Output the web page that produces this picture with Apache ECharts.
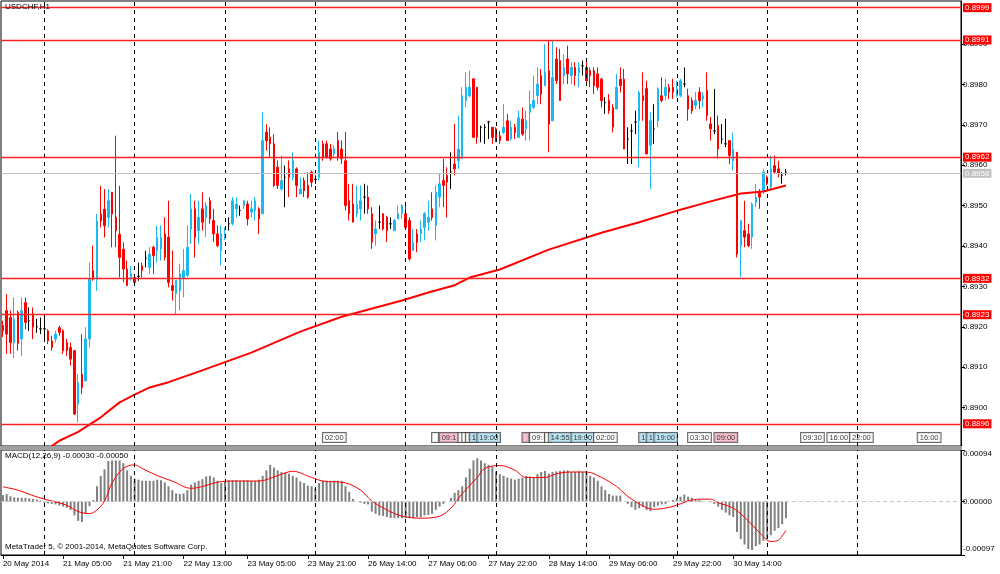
<!DOCTYPE html>
<html><head><meta charset="utf-8">
<script src="https://cdn.jsdelivr.net/npm/echarts@6/dist/echarts.min.js"></script>
<style>html,body{margin:0;padding:0;background:#fff}#c{width:1000px;height:574px}</style>
</head><body><div id="c"></div>
<script>
// ---------- DATA ----------
const chartTitle = 'USDCHF,H1';
const macdTitle = 'MACD(12,26,9) -0.00030 -0.00050';
const copyright = 'MetaTrader 5, \u00a9 2001-2014, MetaQuotes Software Corp.';

// hourly candles [open, close, low, high]
const candles = [
[0.89203,0.89190,0.89175,0.89215],[0.89240,0.89182,0.89133,0.89281],[0.89223,0.89161,0.89133,0.89240],[0.89161,0.89219,0.89123,0.89273],
[0.89236,0.89159,0.89141,0.89240],[0.89170,0.89240,0.89128,0.89273],[0.89260,0.89211,0.89194,0.89273],[0.89215,0.89215,0.89190,0.89248],
[0.89232,0.89199,0.89170,0.89248],[0.89200,0.89200,0.89185,0.89220],[0.89195,0.89195,0.89182,0.89223],[0.89195,0.89195,0.89165,0.89227],
[0.89190,0.89165,0.89157,0.89194],[0.89165,0.89149,0.89141,0.89178],[0.89170,0.89182,0.89161,0.89190],[0.89198,0.89186,0.89178,0.89203],
[0.89190,0.89141,0.89133,0.89194],[0.89161,0.89141,0.89128,0.89170],[0.89149,0.89120,0.89104,0.89161],[0.89141,0.88984,0.88982,0.89143],
[0.89009,0.89062,0.88963,0.89083],[0.89083,0.89050,0.89033,0.89182],[0.89066,0.89170,0.89066,0.89199],[0.89170,0.89318,0.89149,0.89359],
[0.89339,0.89318,0.89314,0.89401],[0.89318,0.89462,0.89289,0.89479],[0.89479,0.89462,0.89446,0.89549],[0.89491,0.89450,0.89421,0.89541],
[0.89471,0.89512,0.89446,0.89541],[0.89533,0.89479,0.89397,0.89533],[0.89471,0.89438,0.89397,0.89673],[0.89429,0.89372,0.89322,0.89549],
[0.89392,0.89343,0.89310,0.89409],[0.89343,0.89302,0.89302,0.89364],[0.89322,0.89331,0.89314,0.89351],[0.89322,0.89310,0.89305,0.89326],
[0.89325,0.89325,0.89314,0.89359],[0.89351,0.89339,0.89322,0.89359],[0.89370,0.89370,0.89347,0.89388],[0.89347,0.89380,0.89331,0.89397],
[0.89397,0.89376,0.89331,0.89401],[0.89388,0.89421,0.89359,0.89450],[0.89393,0.89422,0.89364,0.89451],[0.89430,0.89372,0.89364,0.89471],
[0.89422,0.89310,0.89298,0.89512],[0.89302,0.89290,0.89265,0.89389],[0.89282,0.89315,0.89232,0.89315],[0.89290,0.89331,0.89240,0.89356],
[0.89319,0.89339,0.89273,0.89393],[0.89327,0.89397,0.89323,0.89451],[0.89442,0.89492,0.89405,0.89529],[0.89492,0.89422,0.89372,0.89512],
[0.89438,0.89471,0.89405,0.89512],[0.89492,0.89459,0.89438,0.89533],[0.89471,0.89500,0.89422,0.89508],[0.89512,0.89467,0.89455,0.89521],
[0.89463,0.89430,0.89410,0.89492],[0.89430,0.89401,0.89397,0.89451],[0.89389,0.89430,0.89352,0.89451],[0.89418,0.89430,0.89414,0.89446],
[0.89455,0.89455,0.89438,0.89471],[0.89455,0.89512,0.89451,0.89521],[0.89492,0.89504,0.89471,0.89521],[0.89488,0.89488,0.89475,0.89500],
[0.89500,0.89512,0.89492,0.89512],[0.89504,0.89467,0.89451,0.89512],[0.89484,0.89492,0.89471,0.89512],[0.89488,0.89512,0.89463,0.89521],
[0.89492,0.89467,0.89430,0.89496],[0.89480,0.89661,0.89480,0.89731],[0.89682,0.89661,0.89636,0.89702],[0.89669,0.89653,0.89620,0.89694],
[0.89653,0.89550,0.89546,0.89677],[0.89595,0.89550,0.89541,0.89612],[0.89541,0.89562,0.89537,0.89624],[0.89570,0.89570,0.89496,0.89599],
[0.89591,0.89570,0.89521,0.89612],[0.89570,0.89612,0.89562,0.89632],[0.89591,0.89550,0.89521,0.89595],[0.89529,0.89541,0.89529,0.89570],
[0.89562,0.89537,0.89521,0.89570],[0.89550,0.89521,0.89517,0.89583],[0.89583,0.89558,0.89546,0.89587],[0.89565,0.89565,0.89554,0.89575],
[0.89570,0.89632,0.89562,0.89661],[0.89653,0.89620,0.89611,0.89661],[0.89653,0.89620,0.89616,0.89661],[0.89640,0.89616,0.89611,0.89653],
[0.89628,0.89640,0.89620,0.89649],[0.89661,0.89620,0.89611,0.89682],[0.89640,0.89616,0.89603,0.89661],[0.89611,0.89500,0.89488,0.89682],
[0.89512,0.89480,0.89463,0.89554],[0.89504,0.89459,0.89459,0.89554],[0.89480,0.89504,0.89471,0.89550],[0.89492,0.89512,0.89463,0.89550],
[0.89521,0.89521,0.89480,0.89554],[0.89521,0.89492,0.89480,0.89550],[0.89480,0.89410,0.89393,0.89496],[0.89430,0.89442,0.89401,0.89463],
[0.89459,0.89459,0.89442,0.89500],[0.89480,0.89442,0.89438,0.89480],[0.89471,0.89438,0.89410,0.89475],[0.89455,0.89455,0.89442,0.89471],
[0.89438,0.89463,0.89438,0.89467],[0.89467,0.89480,0.89467,0.89500],[0.89480,0.89500,0.89467,0.89504],[0.89480,0.89446,0.89442,0.89500],
[0.89463,0.89368,0.89364,0.89471],[0.89389,0.89409,0.89389,0.89442],[0.89430,0.89409,0.89385,0.89442],[0.89430,0.89442,0.89410,0.89463],
[0.89446,0.89480,0.89414,0.89484],[0.89459,0.89471,0.89438,0.89512],[0.89492,0.89471,0.89463,0.89533],[0.89451,0.89533,0.89414,0.89550],
[0.89521,0.89554,0.89496,0.89579],[0.89562,0.89550,0.89496,0.89616],[0.89575,0.89558,0.89471,0.89595],[0.89583,0.89583,0.89541,0.89632],
[0.89603,0.89591,0.89575,0.89702],[0.89611,0.89640,0.89591,0.89723],[0.89616,0.89772,0.89616,0.89793],[0.89760,0.89793,0.89744,0.89830],
[0.89772,0.89793,0.89768,0.89834],[0.89814,0.89669,0.89669,0.89814],[0.89793,0.89669,0.89653,0.89793],[0.89694,0.89694,0.89657,0.89698],
[0.89694,0.89694,0.89653,0.89702],[0.89707,0.89707,0.89665,0.89710],[0.89694,0.89669,0.89653,0.89694],[0.89690,0.89665,0.89657,0.89694],
[0.89673,0.89661,0.89653,0.89685],[0.89681,0.89694,0.89677,0.89751],[0.89710,0.89661,0.89661,0.89727],[0.89665,0.89694,0.89661,0.89710],
[0.89694,0.89681,0.89665,0.89702],[0.89669,0.89718,0.89669,0.89735],[0.89714,0.89677,0.89673,0.89743],[0.89690,0.89710,0.89661,0.89735],
[0.89731,0.89751,0.89661,0.89785],[0.89743,0.89760,0.89739,0.89822],[0.89772,0.89801,0.89751,0.89842],[0.89822,0.89776,0.89751,0.89838],
[0.89797,0.89830,0.89797,0.89900],[0.89834,0.89702,0.89632,0.89908],[0.89710,0.89817,0.89710,0.89908],[0.89863,0.89809,0.89801,0.89892],
[0.89859,0.89760,0.89760,0.89888],[0.89822,0.89842,0.89801,0.89875],[0.89863,0.89826,0.89801,0.89896],[0.89822,0.89842,0.89801,0.89855],
[0.89842,0.89822,0.89797,0.89855],[0.89830,0.89842,0.89793,0.89855],[0.89846,0.89846,0.89822,0.89859],[0.89842,0.89809,0.89801,0.89855],
[0.89834,0.89822,0.89793,0.89842],[0.89834,0.89797,0.89776,0.89842],[0.89826,0.89793,0.89785,0.89842],[0.89813,0.89760,0.89743,0.89817],
[0.89755,0.89755,0.89727,0.89768],[0.89760,0.89735,0.89727,0.89776],[0.89743,0.89694,0.89681,0.89751],[0.89739,0.89793,0.89739,0.89826],
[0.89813,0.89797,0.89780,0.89842],[0.89813,0.89640,0.89640,0.89838],[0.89665,0.89665,0.89603,0.89694],[0.89685,0.89685,0.89603,0.89702],
[0.89707,0.89707,0.89677,0.89735],[0.89710,0.89780,0.89595,0.89785],[0.89772,0.89760,0.89710,0.89830],[0.89790,0.89628,0.89628,0.89809],
[0.89649,0.89710,0.89541,0.89731],[0.89690,0.89690,0.89653,0.89751],[0.89710,0.89789,0.89694,0.89793],[0.89772,0.89760,0.89756,0.89818],
[0.89772,0.89793,0.89760,0.89814],[0.89793,0.89781,0.89764,0.89801],[0.89793,0.89781,0.89764,0.89814],[0.89772,0.89789,0.89768,0.89809],
[0.89772,0.89809,0.89768,0.89814],[0.89801,0.89801,0.89793,0.89842],[0.89772,0.89739,0.89710,0.89789],[0.89760,0.89735,0.89727,0.89768],
[0.89748,0.89760,0.89739,0.89781],[0.89781,0.89760,0.89739,0.89793],[0.89764,0.89772,0.89743,0.89781],[0.89785,0.89723,0.89710,0.89830],
[0.89702,0.89690,0.89661,0.89719],[0.89685,0.89685,0.89677,0.89789],[0.89698,0.89640,0.89616,0.89723],[0.89665,0.89665,0.89653,0.89702],
[0.89653,0.89653,0.89645,0.89715],[0.89661,0.89624,0.89603,0.89661],[0.89611,0.89640,0.89587,0.89681],[0.89632,0.89380,0.89372,0.89632],
[0.89401,0.89463,0.89323,0.89463],[0.89438,0.89422,0.89397,0.89512],[0.89430,0.89401,0.89397,0.89455],[0.89422,0.89504,0.89393,0.89508],
[0.89508,0.89521,0.89496,0.89554],[0.89533,0.89521,0.89492,0.89541],[0.89537,0.89583,0.89529,0.89591],[0.89570,0.89554,0.89550,0.89575],
[0.89546,0.89591,0.89541,0.89624],[0.89599,0.89583,0.89579,0.89624],[0.89591,0.89579,0.89570,0.89611],[0.89575,0.89575,0.89554,0.89583],
[0.89583,0.89583,0.89575,0.89591]
];

// moving average: [bar index, price]
const maPoints = [
[10,0.88885],[15,0.88918],[20,0.88940],[26,0.88976],[31,0.89013],[35,0.89032],[39,0.89050],[44,0.89063],
[52,0.89089],[66,0.89136],[79,0.89188],[90,0.89225],[106,0.89265],[113,0.89285],[120,0.89303],[124,0.89322],
[132,0.89342],[145,0.89391],[159,0.89433],[169,0.89459],[180,0.89490],[187,0.89508],[196,0.89530],[202,0.89535],[208,0.89550]
];

// MACD main (histogram), in units of 0.00001
const macdHist = [
12,14,10,8,7,7,7,6,5,4,
2,-2,-3,-4,-5,-7,-9,-11,-15,-25,
-35,-37,-22,-8,3,28,47,59,74,75,
75,75,70,57,47,42,40,38,38,38,
38,40,39,35,28,21,15,14,15,21,
31,35,38,41,46,47,44,38,34,38,
39,39,39,38,39,39,38,38,40,47,
57,67,62,57,54,53,51,47,44,37,
34,29,28,24,34,38,38,38,38,38,
38,28,18,5,0,-2,-4,-5,-18,-22,
-25,-26,-28,-30,-30,-30,-30,-30,-30,-30,
-28,-28,-25,-24,-22,-15,-9,-4,0,7,
16,21,28,44,60,75,79,75,70,67,
64,55,50,47,44,42,40,42,44,47,
46,44,50,54,56,51,54,55,56,57,
57,54,54,55,54,54,47,44,38,28,
21,14,11,11,11,0,-4,-10,-15,-12,
-9,-15,-17,-10,-7,-5,-4,1,3,7,
9,13,9,7,3,3,1,0,-1,-4,
-9,-15,-20,-25,-28,-55,-68,-78,-86,-88,
-81,-78,-71,-68,-61,-53,-48,-41,-30
];

// MACD signal line: [bar index, value in 0.00001]
const macdSignal = [
[0,27],[4,21],[8,11],[11,4.6],[13,1.3],[17,-6.6],[20,-18],[23,-21.7],[25,-15],[27,1.3],[29,34],[32,60.5],
[35,67],[37,60.5],[41,47.4],[45,37.5],[50,24.3],[53,27.6],[57,35.5],[61,37.5],[68,37.5],[73,47.4],[77,55.3],
[82,44],[85,37.5],[91,34.2],[95,21],[98,1.3],[102,-15],[106,-26.3],[111,-30],[116,-26.3],[119,-11.8],[122,14.5],
[126,44],[128,60.5],[132,65.8],[136,57.2],[139,44],[144,44],[147,50.7],[151,54],[155,54],[159,44],[163,27.6],
[167,4.6],[173,-13.8],[178,-8.6],[182,1.3],[185,4.6],[188,4.6],[190,-2],[194,-11.8],[198,-34.9],[201,-56.6],
[204,-72.4],[206,-70],[208,-52]
];

const priceLevels = [0.8999, 0.8991, 0.8962, 0.8932, 0.8923, 0.8896];
const lastPrice = 0.8958;
const priceTicks = [0.8900,0.8910,0.8920,0.8930,0.8940,0.8950,0.8960,0.8970,0.8980,0.8990];
const macdTicks = [94, 0, -97];
const xLabelIdx = [0,16,32,48,65,81,97,113,129,145,161,178,194];
const xLabelText = ['20 May 2014','21 May 05:00','21 May 21:00','22 May 13:00','23 May 05:00','23 May 21:00',
  '26 May 14:00','27 May 06:00','27 May 22:00','28 May 14:00','29 May 06:00','29 May 22:00','30 May 14:00'];
const periodLineIdx = [11,35,59,83,107,131,155,179,203,227];
// calendar event flags: [bar index, text, kind]
const events = [
[85,'02:00','w'],[114,' ','w'],[116,'09:1','p'],[121,' ','w'],[122,' ','w'],[123,'1','w'],[124,'1','b'],[126,'19:00','b'],
[138,' ','p'],[140,'09:','w'],[144,' ','w'],[145,'14:55','b'],[151,'19:00','b'],[157,'02:00','w'],
[169,'1','b'],[171,'1','b'],[173,'19:00','b'],[182,'03:30','w'],[189,'09:00','p'],
[212,'09:30','w'],[219,'16:00','w'],[225,'22:00','w'],[243,'16:00','w']
];
const SLOTS = 255;

// ---------- CHART ----------
const FONT = 'Liberation Sans';
const cats = []; for (let k = 0; k < SLOTS; k++) cats.push(String(k));
const labelAt = {}; xLabelIdx.forEach((k, j) => labelAt[k] = xLabelText[j]);
const isLabel = (i) => labelAt[i] !== undefined;
const evColors = { w: '#ffffff', p: '#f6b4c4', b: '#acdff0' };
const EVENT_PRICE = 0.88926;

const vLineStyle = { color: '#000', type: [4, 4], width: 1 };
const vLines = periodLineIdx.map(i => ({ xAxis: i, lineStyle: vLineStyle, label: { show: false } }));

const levelLines = priceLevels.map(p => ({
  yAxis: p,
  lineStyle: { color: '#ff2020', width: 1.3, type: 'solid' },
  label: { show: true, position: 'end', distance: 2, formatter: () => p.toFixed(4), color: '#fff',
           backgroundColor: '#ff0000', padding: [1, 2, 0, 2], fontSize: 8, fontFamily: FONT }
}));
levelLines.push({
  yAxis: lastPrice,
  lineStyle: { color: '#c0c0c0', width: 1, type: 'solid' },
  label: { show: true, position: 'end', distance: 2, formatter: () => lastPrice.toFixed(4), color: '#fff',
           backgroundColor: '#c0c0c0', padding: [1, 2, 0, 2], fontSize: 8, fontFamily: FONT }
});

const option = {
  animation: false,
  backgroundColor: '#fff',
  textStyle: { fontFamily: FONT },
  grid: [
    { left: 1, top: 1, width: 960, height: 445, show: true, borderColor: '#000', borderWidth: 1, outerBoundsMode: 'none' },
    { left: 1, top: 450, width: 960, height: 105, show: true, borderColor: '#000', borderWidth: 1, outerBoundsMode: 'none' }
  ],
  xAxis: [
    { type: 'category', gridIndex: 0, data: cats, boundaryGap: true,
      axisLine: { show: false, onZero: false }, axisTick: { show: false }, axisLabel: { show: false }, splitLine: { show: false } },
    { type: 'category', gridIndex: 1, data: cats, boundaryGap: true,
      axisLine: { show: true, onZero: false, lineStyle: { color: '#000', width: 1 } },
      axisTick: { show: true, alignWithLabel: true, interval: (i) => isLabel(i), length: 4, lineStyle: { color: '#000' } },
      axisLabel: { show: true, interval: (i) => isLabel(i), formatter: (v, i) => labelAt[i] || '', align: 'left',
                   margin: 5, fontSize: 8, color: '#000', fontFamily: FONT, hideOverlap: false },
      splitLine: { show: false } }
  ],
  yAxis: [
    { type: 'value', gridIndex: 0, position: 'right', min: 0.88905, max: 0.900065,
      axisLine: { show: true, lineStyle: { color: '#000' } },
      axisTick: { show: true, customValues: priceTicks, length: 4, lineStyle: { color: '#000' } },
      axisLabel: { show: true, customValues: priceTicks, formatter: v => v.toFixed(4), fontSize: 8, color: '#000', margin: 2, fontFamily: FONT },
      splitLine: { show: false } },
    { type: 'value', gridIndex: 1, position: 'right', min: -97, max: 94,
      axisLine: { show: true, lineStyle: { color: '#000' } },
      axisTick: { show: true, customValues: macdTicks, length: 4, lineStyle: { color: '#000' } },
      axisLabel: { show: true, customValues: macdTicks, fontSize: 8, color: '#000', margin: 2, fontFamily: FONT,
        formatter: v => {
          const t = (v / 100000).toFixed(5);
          if (v > 0) return '{t|' + t + '}';
          if (v < 0) return '{b|' + t + '}';
          return t;
        },
        rich: { t: { fontSize: 8, padding: [7, 0, 0, 0] }, b: { fontSize: 8, padding: [0, 0, 12, 0] } } },
      splitLine: { show: false } }
  ],
  series: [
    { type: 'candlestick', xAxisIndex: 0, yAxisIndex: 0, data: candles, barWidth: 2,
      itemStyle: { color: '#1cb9f0', color0: '#ff0000', borderColor: '#1cb9f0', borderColor0: '#ff0000',
                   borderColorDoji: '#000000', borderWidth: 1 },
      markLine: { silent: true, symbol: ['none', 'none'], animation: false, data: vLines } },
    { type: 'line', xAxisIndex: 0, yAxisIndex: 0, data: maPoints, showSymbol: false, z: 3,
      lineStyle: { color: '#ff0000', width: 2 },
      markLine: { silent: true, precision: 5, symbol: ['none', 'none'], animation: false, data: levelLines } },
    { type: 'scatter', xAxisIndex: 0, yAxisIndex: 0, symbolSize: 0.1, z: 4,
      itemStyle: { color: 'transparent' },
      data: events.map(e => ({ value: [e[0], EVENT_PRICE],
        label: { show: true, position: 'right', distance: 0, formatter: e[1], fontSize: 7.5, color: '#000', fontFamily: FONT,
                 backgroundColor: evColors[e[2]], borderColor: '#444', borderWidth: 1, padding: [1, 2, 0, 2] } })) },
    { type: 'bar', xAxisIndex: 1, yAxisIndex: 1, data: macdHist, barWidth: 2,
      itemStyle: { color: '#808080' },
      markLine: { silent: true, symbol: ['none', 'none'], animation: false,
        data: vLines.concat([{ yAxis: 0, lineStyle: { color: '#c8c8c8', type: [4, 3], width: 1 }, label: { show: false } }]) } },
    { type: 'line', xAxisIndex: 1, yAxisIndex: 1, data: macdSignal, showSymbol: false, smooth: 0.35, z: 3,
      lineStyle: { color: '#ff0000', width: 1 } }
  ],
  graphic: [
    { type: 'rect', left: 0, top: 446, shape: { width: 962, height: 4 }, style: { fill: '#a0a0a0' }, silent: true, z: 10 },
    { type: 'text', left: 5, top: 3, style: { text: chartTitle, fontSize: 8, fill: '#000', fontFamily: FONT }, z: 10 },
    { type: 'text', left: 5, top: 452, style: { text: macdTitle, fontSize: 8, fill: '#000', fontFamily: FONT }, z: 10 },
    { type: 'text', left: 5, top: 543, style: { text: copyright, fontSize: 8, fill: '#000', fontFamily: FONT }, z: 10 }
  ]
};

const chart = echarts.init(document.getElementById('c'), null, { renderer: 'canvas' });
chart.setOption(option);
</script>
</body></html>
